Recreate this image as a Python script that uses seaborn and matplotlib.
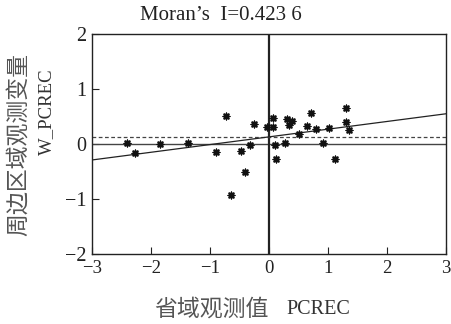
import matplotlib
matplotlib.use("Agg")
import matplotlib.pyplot as plt
import seaborn as sns
import pandas as pd

# Data
pcrec = [-2.41, -2.27, -1.85, -1.38, -0.90, -0.73, -0.65, -0.47, -0.40, -0.33,
         -0.26, -0.04, 0.06, 0.06, 0.10, 0.12, 0.27, 0.31, 0.34, 0.39,
         0.51, 0.64, 0.71, 0.80, 0.91, 1.02, 1.11, 1.30, 1.30, 1.36]
w_pcrec = [0.01, -0.16, 0.00, 0.01, -0.15, 0.51, -0.92, -0.13, -0.50, -0.01,
           0.36, 0.31, 0.48, 0.31, -0.02, -0.27, 0.02, 0.45, 0.35, 0.42,
           0.19, 0.32, 0.56, 0.27, 0.01, 0.30, -0.28, 0.65, 0.40, 0.26]
fit_intercept = 0.13
fit_slope = 0.14
dash_y = 0.13
x_ticks = [-3, -2, -1, 0, 1, 2, 3]
y_ticks = [-2, -1, 0, 1, 2]
title = "Moran\u2019s  I=0.423 6"
xlabel_cn = "省域观测值"
xlabel_en = "PCREC"
ylabel_outer = "周边区域观测变量"
ylabel_inner = "W_PCREC"

df = pd.DataFrame({"PCREC": pcrec, "W_PCREC": w_pcrec})

sns.set_theme(style="white")
fam = ["Liberation Serif", "Noto Sans CJK SC"]
cjk = ["Noto Sans CJK SC", "Liberation Serif"]
plt.rcParams["font.family"] = fam
plt.rcParams["axes.unicode_minus"] = True

fig = plt.figure(figsize=(4.51, 3.24), dpi=100)
ax = fig.add_axes([0.204, 0.216, 0.785, 0.679])

ax.axhline(0, color="#444444", lw=1.0, zorder=1)
ax.axvline(0, color="#222222", lw=1.6, zorder=1)
ax.axhline(dash_y, color="#444444", lw=0.9, ls=(0, (3, 2)), zorder=1)
ax.axline((0, fit_intercept), slope=fit_slope, color="#222222", lw=0.9, zorder=2)

sns.scatterplot(data=df, x="PCREC", y="W_PCREC", ax=ax, marker=(8, 2, 0),
                s=22, color="#111111", linewidth=1.1, edgecolor="#111111", zorder=3)

ax.set_xlim(-3, 3)
ax.set_ylim(-2, 2)
ax.set_xticks(x_ticks)
ax.set_yticks(y_ticks)
ax.tick_params(direction="in", length=5, width=0.8, pad=4,
               bottom=True, left=True, colors="#222222")
ax.tick_params(axis="x", labelsize=13.5)
ax.tick_params(axis="y", labelsize=14.5)
for lab in ax.get_xticklabels() + ax.get_yticklabels():
    lab.set_family(fam)
for s in ax.spines.values():
    s.set_color("#222222")
    s.set_linewidth(1.0)

ax.set_xlabel("")
ax.set_ylabel("")
fig.text(0.468, 0.046, xlabel_cn, fontsize=16.5, family=cjk, fontweight="light",
         ha="center", va="center", color="#555555")
fig.text(0.705, 0.046, xlabel_en, fontsize=14.5, family=fam, ha="center", va="center",
         color="#333333")
fig.text(0.104, 0.654, ylabel_inner, rotation=90, fontsize=13.5, family=fam,
         ha="center", va="center", color="#333333")
fig.text(0.040, 0.555, ylabel_outer, rotation=90, fontsize=16.5, family=cjk,
         fontweight="light", ha="center", va="center", color="#555555")
fig.text(0.49, 0.951, title, fontsize=15, family=fam, ha="center", va="center",
         color="#222222")

fig.savefig("out.png", dpi=100)
